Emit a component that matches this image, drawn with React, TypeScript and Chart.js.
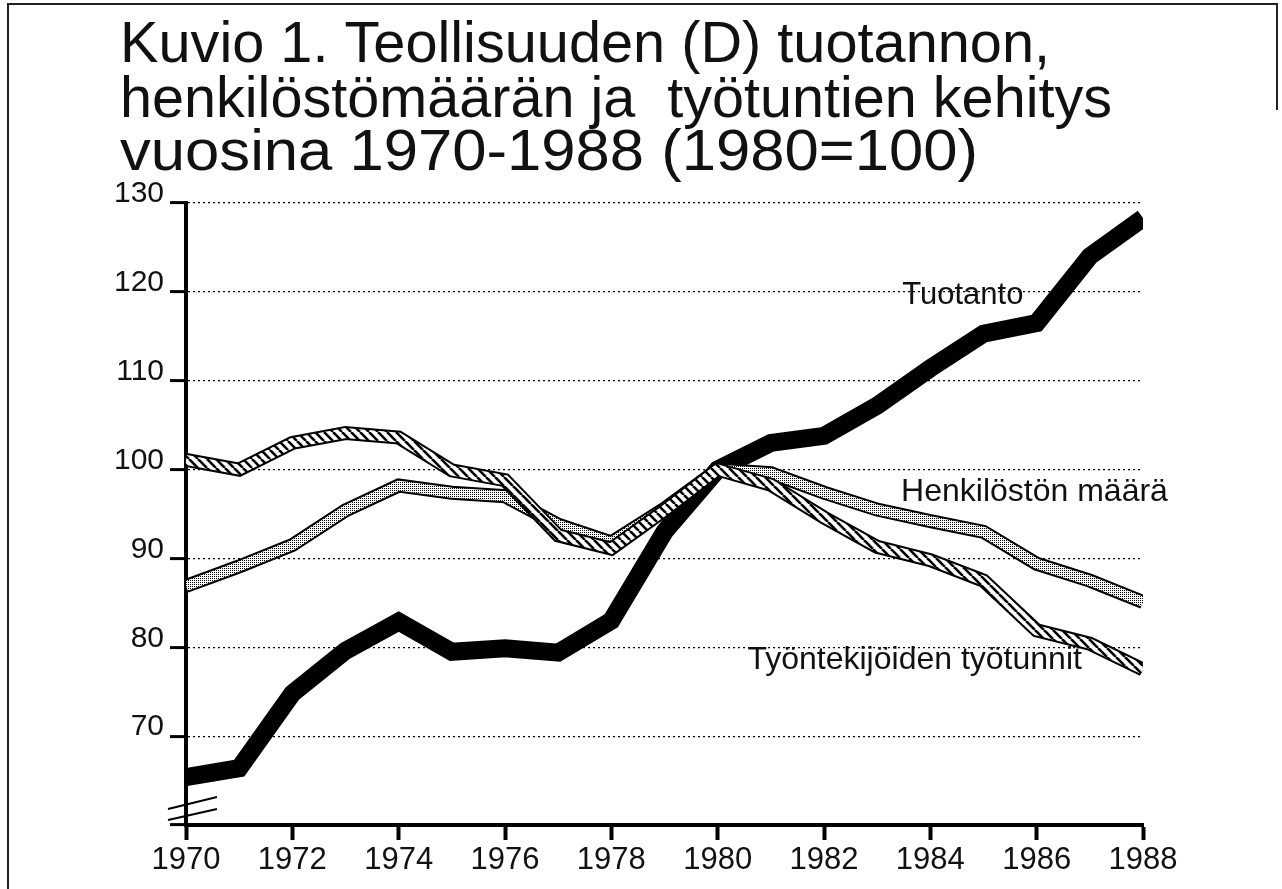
import React, { useEffect, useRef } from 'react';
import { Chart, registerables } from 'chart.js';

Chart.register(...registerables);

// ---- Data (index 1980 = 100) ----
const years = [1970, 1971, 1972, 1973, 1974, 1975, 1976, 1977, 1978, 1979, 1980, 1981, 1982, 1983, 1984, 1985, 1986, 1987, 1988];
const tuotanto = [65.4, 66.4, 74.8, 79.6, 82.9, 79.5, 79.9, 79.4, 83.0, 93.0, 100, 103.0, 103.8, 107.2, 111.4, 115.3, 116.5, 124.0, 128.3];
const henkilosto = [86.9, 89.1, 91.5, 95.4, 98.2, 97.4, 97.0, 93.8, 91.8, 95.6, 100, 99.6, 97.4, 95.5, 94.2, 93.0, 89.4, 87.5, 85.1];
const tyotunnit = [101.1, 100.0, 103.0, 104.1, 103.6, 99.9, 98.8, 92.6, 91.1, 95.4, 100, 98.3, 94.6, 91.3, 89.8, 87.5, 81.9, 80.4, 77.5];

const xTickYears = [1970, 1972, 1974, 1976, 1978, 1980, 1982, 1984, 1986, 1988];
const yTickValues = [60, 70, 80, 90, 100, 110, 120, 130];

const titleLines = [
  'Kuvio 1. Teollisuuden (D) tuotannon,',
  'henkilöstömäärän ja  työtuntien kehitys',
  'vuosina 1970-1988 (1980=100)',
];
const seriesLabels = ['Tuotanto', 'Henkilöstön määrä', 'Työntekijöiden työtunnit'];

const FONT = '"Liberation Sans", Arial, Helvetica, sans-serif';
const W = 1282;
const H = 889;

function makeDots(): CanvasPattern | string {
  const c = document.createElement('canvas');
  c.width = 2; c.height = 2;
  const g = c.getContext('2d');
  if (!g) return '#bbb';
  g.fillStyle = '#fff'; g.fillRect(0, 0, 2, 2);
  g.fillStyle = '#000'; g.fillRect(0, 0, 1, 1);
  return g.createPattern(c, 'repeat') || '#bbb';
}

function makeHatch(): CanvasPattern | string {
  const s = 9;
  const c = document.createElement('canvas');
  c.width = s; c.height = s;
  const g = c.getContext('2d');
  if (!g) return '#888';
  g.fillStyle = '#fff'; g.fillRect(0, 0, s, s);
  g.strokeStyle = '#000'; g.lineWidth = 2.6;
  for (const k of [-1, 0, 1]) {
    g.beginPath(); g.moveTo(k * s, 0); g.lineTo(k * s + s, s); g.stroke();
  }
  return g.createPattern(c, 'repeat') || '#888';
}

export default function App() {
  const ref = useRef<HTMLCanvasElement | null>(null);

  useEffect(() => {
    if (!ref.current) return;
    const dots = makeDots();
    const hatch = makeHatch();
    const pts = (arr: number[]) => years.map((y, i) => ({ x: y, y: arr[i] }));
    const lineBase = { pointRadius: 0, tension: 0, fill: false, borderJoinStyle: 'miter', borderCapStyle: 'butt' };

    const decor = {
      id: 'decor',
      beforeDraw(chart: any) {
        const ctx = chart.ctx;
        ctx.save();
        ctx.fillStyle = '#fff';
        ctx.fillRect(0, 0, chart.width, chart.height);
        ctx.restore();
      },
      afterDraw(chart: any) {
        const ctx = chart.ctx;
        const xs = chart.scales.x;
        const ys = chart.scales.y;
        ctx.save();
        // frame
        ctx.strokeStyle = '#222';
        ctx.lineWidth = 2;
        ctx.beginPath();
        ctx.moveTo(8, H); ctx.lineTo(8, 4); ctx.lineTo(1277, 4); ctx.lineTo(1277, 110);
        ctx.stroke();
        // title (each line fitted to the width it has in the original)
        ctx.fillStyle = '#111';
        ctx.font = `57px ${FONT}`;
        ctx.textBaseline = 'alphabetic';
        ctx.textAlign = 'left';
        const baselines = [62, 117, 170];
        const widths = [930, 992, 858];
        titleLines.forEach((t, i) => {
          const w = ctx.measureText(t).width;
          ctx.save();
          ctx.translate(120, baselines[i]);
          ctx.scale(widths[i] / w, 1);
          ctx.fillText(t, 0, 0);
          ctx.restore();
        });
        // series labels
        const lab = [
          { t: seriesLabels[0], x: 1983.47, y: 118.6, s: 31 },
          { t: seriesLabels[1], x: 1983.45, y: 96.5, s: 32 },
          { t: seriesLabels[2], x: 1980.56, y: 77.6, s: 32 },
        ];
        lab.forEach((l) => {
          ctx.font = `${l.s}px ${FONT}`;
          ctx.fillText(l.t, xs.getPixelForValue(l.x), ys.getPixelForValue(l.y));
        });
        // axis break marks
        const left = chart.chartArea.left;
        ctx.strokeStyle = '#000';
        ctx.lineWidth = 2;
        ctx.beginPath();
        ctx.moveTo(left - 18, ys.getPixelForValue(61.8)); ctx.lineTo(left + 31, ys.getPixelForValue(63.15));
        ctx.moveTo(left - 18, ys.getPixelForValue(60.56)); ctx.lineTo(left + 31, ys.getPixelForValue(61.8));
        ctx.stroke();
        ctx.restore();
      },
    };

    const chart = new Chart(ref.current, {
      type: 'line',
      data: {
        datasets: [
          { ...lineBase, label: seriesLabels[0], data: pts(tuotanto), borderColor: '#000', borderWidth: 18, order: 10 },
          { ...lineBase, label: seriesLabels[1] + ' outline', data: pts(henkilosto), borderColor: '#000', borderWidth: 14, order: 9 },
          { ...lineBase, label: seriesLabels[1], data: pts(henkilosto), borderColor: dots, borderWidth: 10, order: 8 },
          { ...lineBase, label: seriesLabels[2] + ' outline', data: pts(tyotunnit), borderColor: '#000', borderWidth: 14, order: 7 },
          { ...lineBase, label: seriesLabels[2], data: pts(tyotunnit), borderColor: hatch, borderWidth: 10, order: 6 },
        ] as any,
      },
      options: {
        responsive: false,
        animation: false,
        layout: { padding: { top: 203, right: 139, bottom: 0, left: 0 } },
        plugins: { legend: { display: false }, tooltip: { enabled: false }, title: { display: false } },
        scales: {
          x: {
            type: 'linear',
            min: 1970,
            max: 1988,
            afterBuildTicks: (scale: any) => { scale.ticks = xTickYears.map((v) => ({ value: v })); },
            afterFit: (scale: any) => { scale.height = H - 825; },
            ticks: {
              autoSkip: false,
              maxRotation: 0,
              padding: 2,
              color: '#111',
              font: { family: FONT, size: 31 },
              callback: (v: any) => String(v),
            },
            grid: { drawOnChartArea: false, drawTicks: true, tickLength: 15, tickWidth: 4, tickColor: '#000' },
            border: { display: true, color: '#000', width: 4 },
          },
          y: {
            type: 'linear',
            min: 60,
            max: 130,
            afterBuildTicks: (scale: any) => { scale.ticks = yTickValues.map((v) => ({ value: v })); },
            afterFit: (scale: any) => { scale.width = 186; },
            ticks: {
              padding: 6,
              labelOffset: -9,
              color: '#111',
              font: { family: FONT, size: 30 },
              callback: (v: any) => (v === 60 ? '' : String(v)),
            },
            grid: { color: '#000', lineWidth: 1.2, drawTicks: true, tickLength: 16, tickWidth: 3, tickColor: '#000', tickBorderDash: [] },
            border: { display: true, color: '#000', width: 4, dash: [2, 3] },
          },
        },
      } as any,
      plugins: [decor],
    });
    return () => chart.destroy();
  }, []);

  return (
    <div style={{ position: 'absolute', left: 0, top: 0, width: W, height: H, background: '#fff' }}>
      <canvas ref={ref} width={W} height={H} style={{ display: 'block', width: W, height: H }} />
    </div>
  );
}
